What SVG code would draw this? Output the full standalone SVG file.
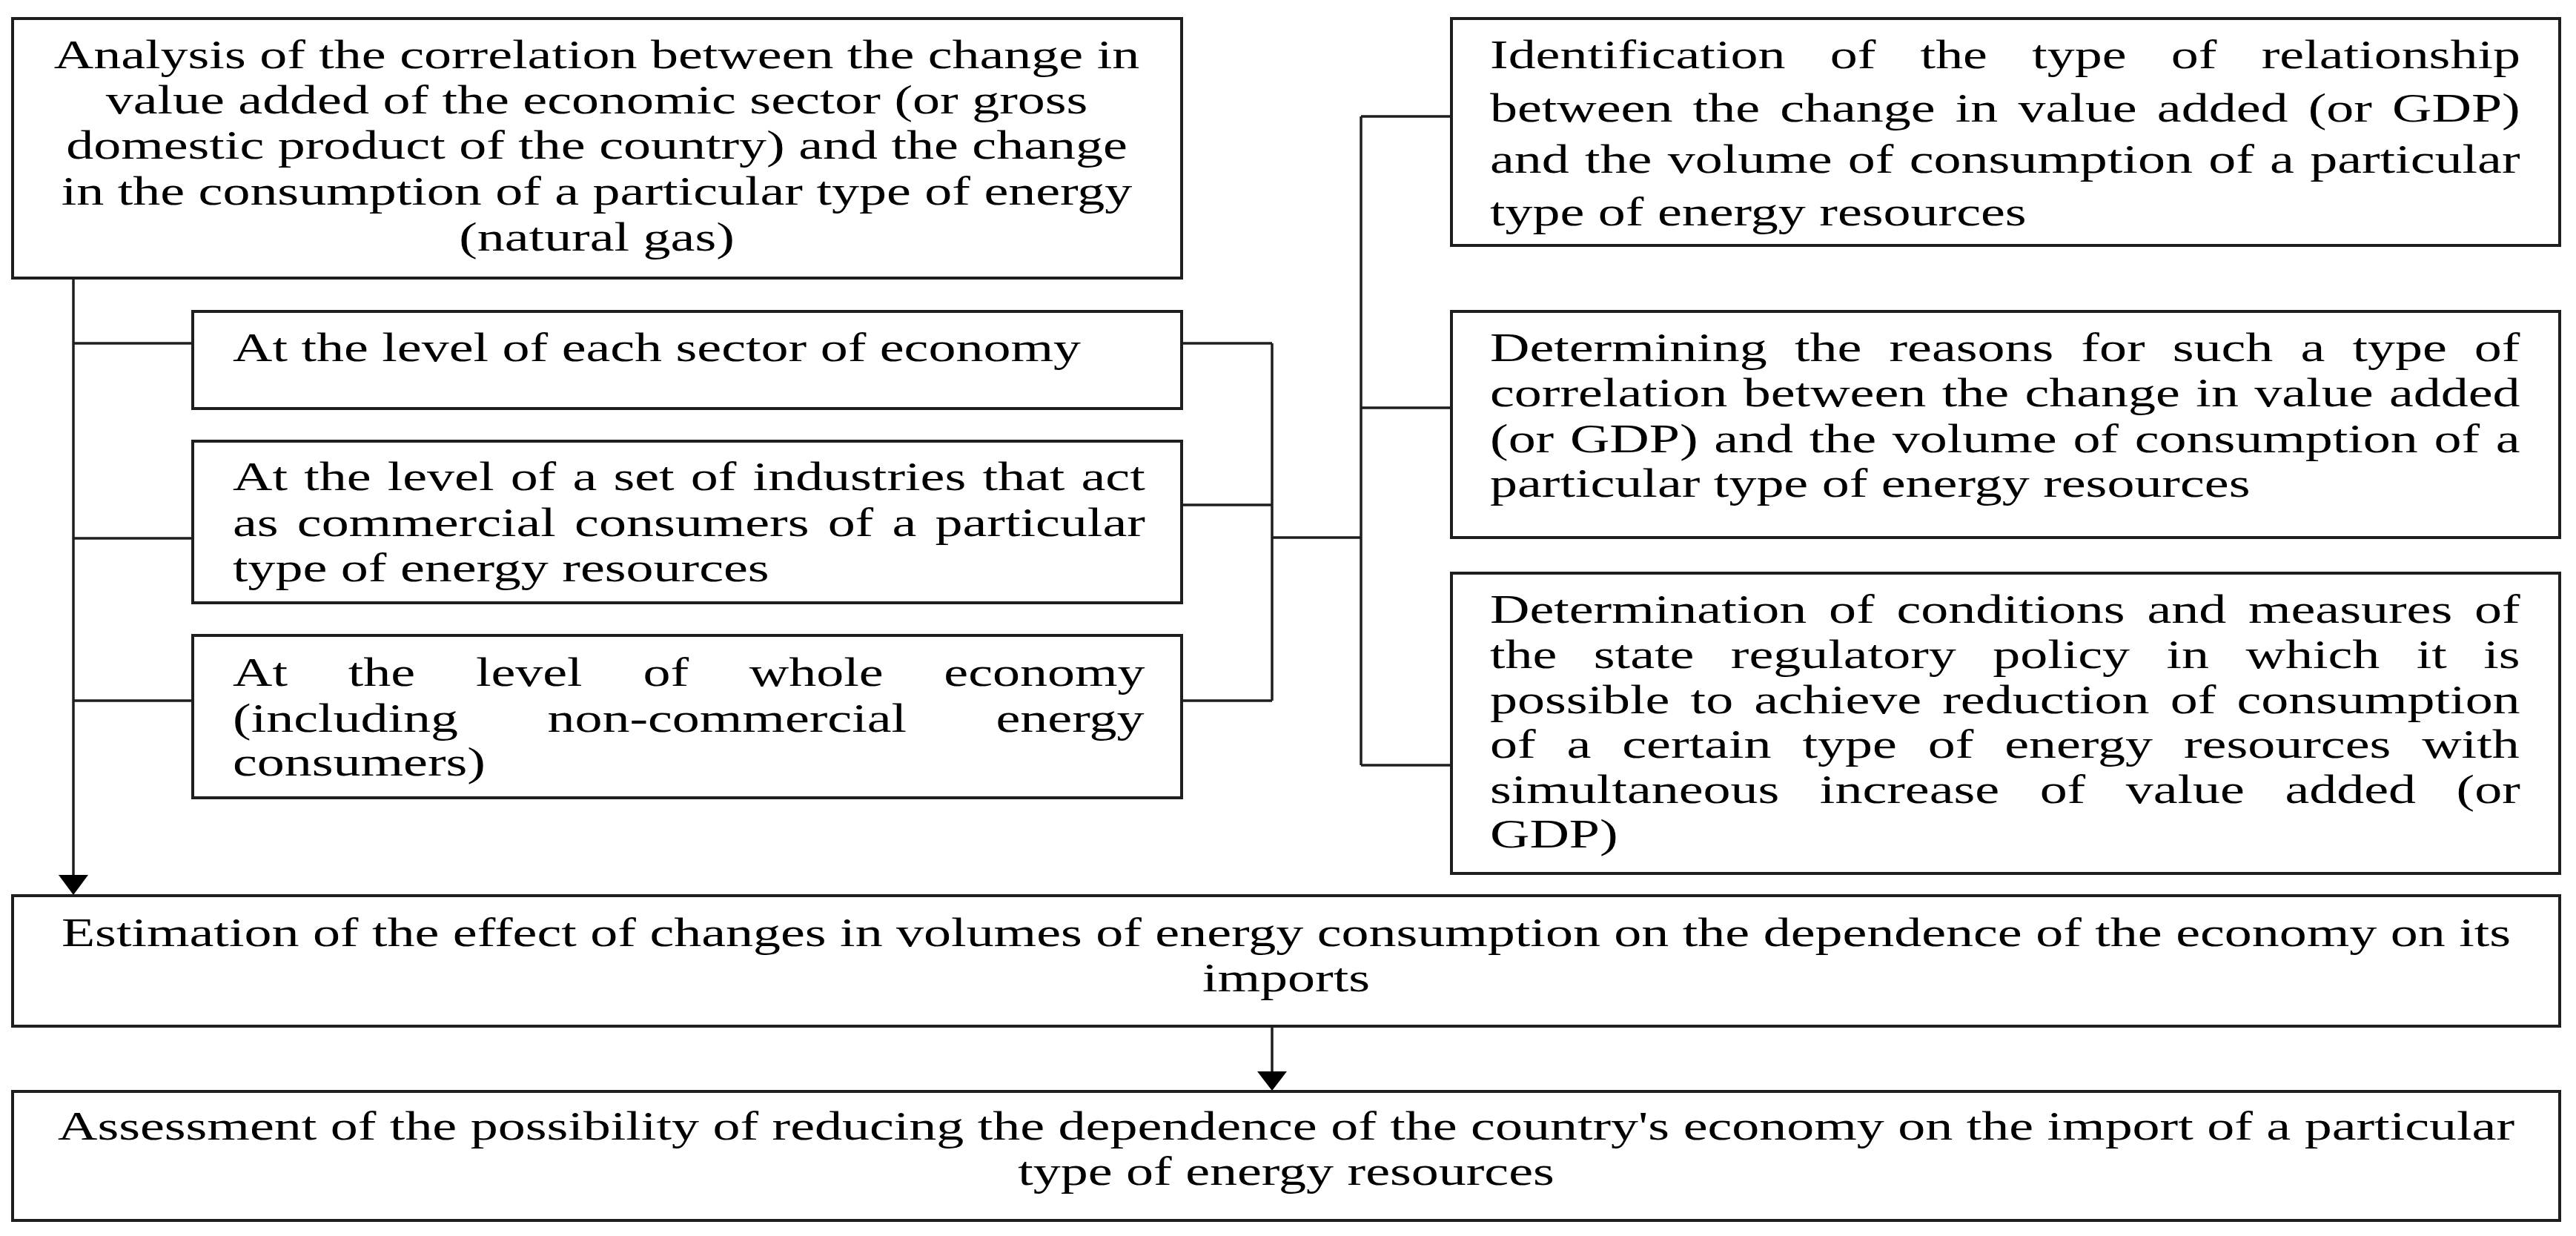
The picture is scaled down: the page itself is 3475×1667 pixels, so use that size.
<svg xmlns="http://www.w3.org/2000/svg" width="3475" height="1667" viewBox="0 0 3475 1667">
<style>
.box{fill:#fff;stroke:#1e1e1e;stroke-width:4}
.t{font-family:"Liberation Serif","Times New Roman",serif;font-size:54px;fill:#000}
.c{text-anchor:middle}
.ln{fill:none;stroke:#1e1e1e;stroke-width:3.5}
.ah{fill:#000;stroke:none}
</style>
<rect width="3475" height="1667" fill="#fff"/>
<g id="connectors">
<path class="ln" d="M99 375V1182"/>
<path class="ln" d="M99 463H260M99 726H260M99 945H260"/>
<path class="ln" d="M1594 463H1716M1594 681H1716M1594 945H1716M1716 463V945M1716 725H1836"/>
<path class="ln" d="M1836 157V1032M1836 157H1958M1836 550H1958M1836 1032H1958"/>
<path class="ln" d="M1716 1384V1446"/>
<polygon class="ah" points="79,1180 119,1180 99,1207"/>
<polygon class="ah" points="1696,1445 1736,1445 1716,1471"/>
</g>
<g id="nodeA">
<rect class="box" x="17" y="25" width="1577" height="350"/>
<text class="t c" transform="matrix(1.37 0 0 1 805 92)">Analysis of the correlation between the change in</text>
<text class="t c" transform="matrix(1.37 0 0 1 805 153)">value added of the economic sector (or gross</text>
<text class="t c" transform="matrix(1.37 0 0 1 805 214)">domestic product of the country) and the change</text>
<text class="t c" transform="matrix(1.37 0 0 1 805 276)">in the consumption of a particular type of energy</text>
<text class="t c" transform="matrix(1.37 0 0 1 805 338)">(natural gas)</text>
</g>
<g id="nodeB1">
<rect class="box" x="260" y="420" width="1334" height="131"/>
<text class="t" transform="matrix(1.37 0 0 1 314 487)">At the level of each sector of economy</text>
</g>
<g id="nodeB2">
<rect class="box" x="260" y="595" width="1334" height="218"/>
<text class="t" style="word-spacing:2.7px" transform="matrix(1.37 0 0 1 314 661)">At the level of a set of industries that act</text>
<text class="t" style="word-spacing:4.9px" transform="matrix(1.37 0 0 1 314 723)">as commercial consumers of a particular</text>
<text class="t" transform="matrix(1.37 0 0 1 314 784)">type of energy resources</text>
</g>
<g id="nodeB3">
<rect class="box" x="260" y="857" width="1334" height="219"/>
<text class="t" style="word-spacing:46.2px" transform="matrix(1.37 0 0 1 314 925)">At the level of whole economy</text>
<text class="t" style="word-spacing:74.4px" transform="matrix(1.37 0 0 1 314 987)">(including non-commercial energy</text>
<text class="t" transform="matrix(1.37 0 0 1 314 1046)">consumers)</text>
</g>
<g id="nodeC1">
<rect class="box" x="1958" y="25" width="1495" height="306"/>
<text class="t" style="word-spacing:30.5px" transform="matrix(1.37 0 0 1 2010 92)">Identification of the type of relationship</text>
<text class="t" style="word-spacing:6.35px" transform="matrix(1.37 0 0 1 2010 164)">between the change in value added (or GDP)</text>
<text class="t" style="word-spacing:2.04px" transform="matrix(1.37 0 0 1 2010 233)">and the volume of consumption of a particular</text>
<text class="t" transform="matrix(1.37 0 0 1 2010 304)">type of energy resources</text>
</g>
<g id="nodeC2">
<rect class="box" x="1958" y="420" width="1495" height="305"/>
<text class="t" style="word-spacing:13.6px" transform="matrix(1.37 0 0 1 2010 487)">Determining the reasons for such a type of</text>
<text class="t" style="word-spacing:2.16px" transform="matrix(1.37 0 0 1 2010 548)">correlation between the change in value added</text>
<text class="t" style="word-spacing:2.35px" transform="matrix(1.37 0 0 1 2010 610)">(or GDP) and the volume of consumption of a</text>
<text class="t" transform="matrix(1.37 0 0 1 2010 670)">particular type of energy resources</text>
</g>
<g id="nodeC3">
<rect class="box" x="1958" y="773" width="1495" height="405"/>
<text class="t" style="word-spacing:8.26px" transform="matrix(1.37 0 0 1 2010 840)">Determination of conditions and measures of</text>
<text class="t" style="word-spacing:22.6px" transform="matrix(1.37 0 0 1 2010 901)">the state regulatory policy in which it is</text>
<text class="t" style="word-spacing:7.05px" transform="matrix(1.37 0 0 1 2010 962)">possible to achieve reduction of consumption</text>
<text class="t" style="word-spacing:17.1px" transform="matrix(1.37 0 0 1 2010 1022)">of a certain type of energy resources with</text>
<text class="t" style="word-spacing:26.3px" transform="matrix(1.37 0 0 1 2010 1083)">simultaneous increase of value added (or</text>
<text class="t" transform="matrix(1.37 0 0 1 2010 1143)">GDP)</text>
</g>
<g id="nodeE">
<rect class="box" x="17" y="1208" width="3436" height="176"/>
<text class="t c" transform="matrix(1.37 0 0 1 1735 1276)">Estimation of the effect of changes in volumes of energy consumption on the dependence of the economy on its</text>
<text class="t c" transform="matrix(1.37 0 0 1 1735 1337)">imports</text>
</g>
<g id="nodeF">
<rect class="box" x="17" y="1472" width="3436" height="174"/>
<text class="t c" transform="matrix(1.37 0 0 1 1735 1537)">Assessment of the possibility of reducing the dependence of the country's economy on the import of a particular</text>
<text class="t c" transform="matrix(1.37 0 0 1 1735 1598)">type of energy resources</text>
</g>
</svg>
